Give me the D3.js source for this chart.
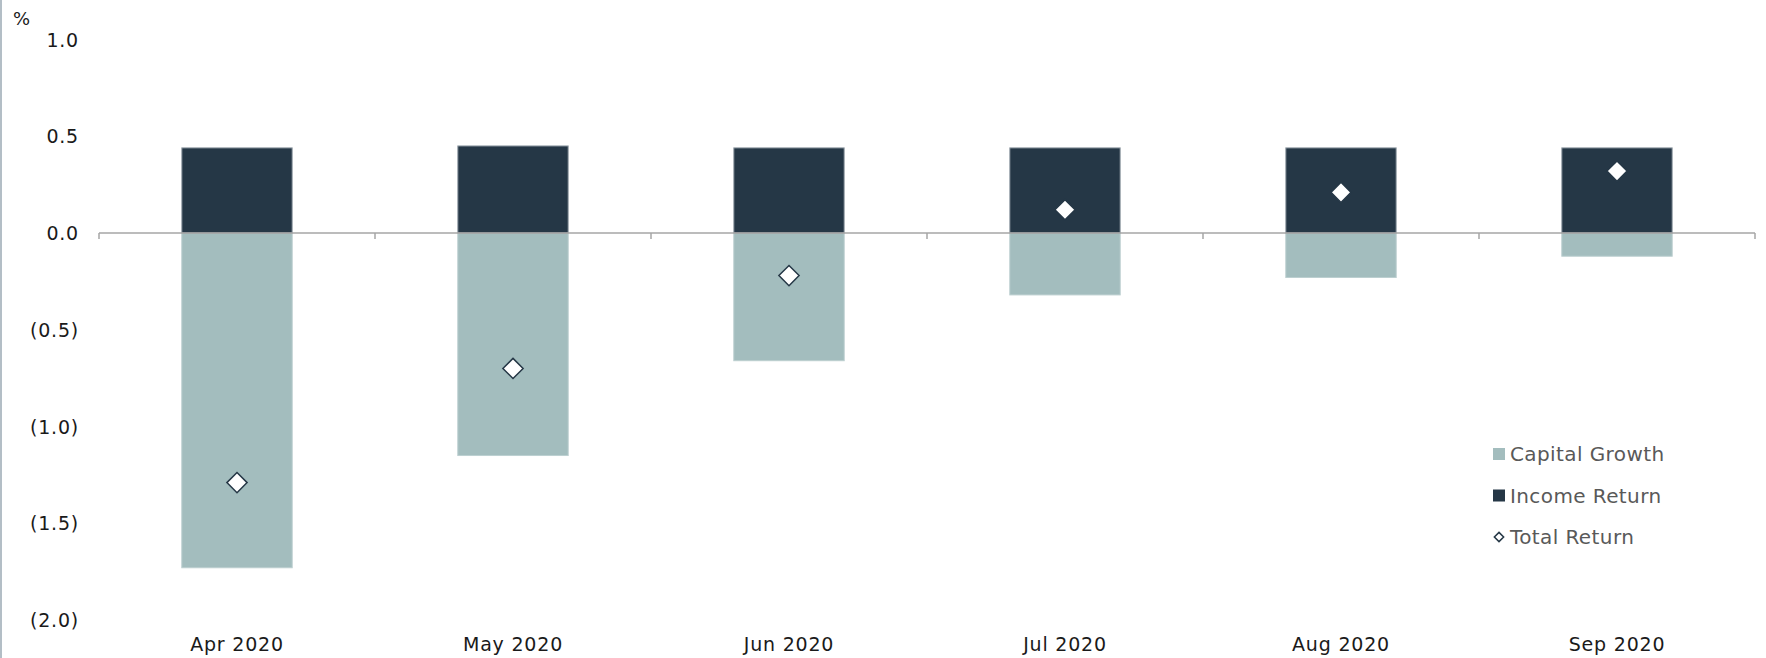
<!DOCTYPE html>
<html>
<head>
<meta charset="utf-8">
<script src="https://d3js.org/d3.v7.min.js"></script>
<style>
  body { margin: 0; background: #fff; }
  text { font-family: "DejaVu Sans", sans-serif; }
</style>
</head>
<body>
<script>
var months = ["Apr 2020", "May 2020", "Jun 2020", "Jul 2020", "Aug 2020", "Sep 2020"];
var capitalGrowth = [-1.73, -1.15, -0.66, -0.32, -0.23, -0.12];
var incomeReturn = [0.44, 0.45, 0.44, 0.44, 0.44, 0.44];
var totalReturn = [-1.29, -0.70, -0.22, 0.12, 0.21, 0.32];
var yTicks = [1.0, 0.5, 0.0, -0.5, -1.0, -1.5, -2.0];

var width = 1766, height = 658;
var darkColor = "#253746", lightColor = "#a3bdbe";

var svg = d3.select("body").append("svg")
    .attr("width", width)
    .attr("height", height);

// left border line
svg.append("rect").attr("x", 0).attr("y", 0).attr("width", 2).attr("height", height)
    .style("fill", "#b3bec6");

var x = d3.scaleBand()
    .domain(months)
    .range([99, 1755])
    .paddingInner(0.6)
    .paddingOuter(0.3);

var y = d3.scaleLinear()
    .domain([-2, 1])
    .range([620, 39.5]);

// y labels
svg.selectAll(".ylab")
    .data(yTicks)
    .enter()
  .append("text")
    .attr("class", "ylab")
    .attr("x", 79)
    .attr("y", function(d) { return y(d) + 7; })
    .attr("text-anchor", "end")
    .style("font-size", "19px")
    .style("letter-spacing", "0.8px")
    .style("fill", "#1a1a1a")
    .text(function(d) { return d < 0 ? "(" + Math.abs(d).toFixed(1) + ")" : d.toFixed(1); });

svg.append("text")
    .attr("x", 13).attr("y", 25)
    .style("font-size", "18px")
    .style("fill", "#1a1a1a")
    .text("%");

// bars
svg.selectAll(".cap")
    .data(capitalGrowth)
    .enter()
  .append("rect")
    .attr("class", "cap")
    .attr("x", function(d, i) { return x(months[i]); })
    .attr("y", y(0))
    .attr("width", x.bandwidth())
    .attr("height", function(d) { return y(d) - y(0); })
    .style("fill", lightColor)
    .style("stroke", "#bccfd0")
    .style("stroke-width", 1);

svg.selectAll(".inc")
    .data(incomeReturn)
    .enter()
  .append("rect")
    .attr("class", "inc")
    .attr("x", function(d, i) { return x(months[i]); })
    .attr("y", function(d) { return y(d); })
    .attr("width", x.bandwidth())
    .attr("height", function(d) { return y(0) - y(d); })
    .style("fill", darkColor)
    .style("stroke", "#9aa4ac")
    .style("stroke-width", 1);

// zero axis
var x0 = x.range()[0], x1 = x.range()[1], step = x.step();
svg.append("line")
    .attr("x1", x0).attr("x2", x1)
    .attr("y1", y(0)).attr("y2", y(0))
    .style("stroke", "#a6a6a6").style("stroke-width", 1.5);

svg.selectAll(".tick")
    .data(d3.range(months.length + 1))
    .enter()
  .append("line")
    .attr("x1", function(d) { return x0 + d * step; })
    .attr("x2", function(d) { return x0 + d * step; })
    .attr("y1", y(0)).attr("y2", y(0) + 6)
    .style("stroke", "#a6a6a6").style("stroke-width", 1.5);

// diamonds
var diamond = d3.symbol().type(d3.symbolDiamond2).size(260);
svg.selectAll(".tot")
    .data(totalReturn)
    .enter()
  .append("path")
    .attr("class", "tot")
    .attr("d", diamond)
    .attr("transform", function(d, i) { return "translate(" + (x(months[i]) + x.bandwidth() / 2) + "," + y(d) + ")"; })
    .style("fill", "#fff")
    .style("stroke", darkColor)
    .style("stroke-width", 1.5);

// x labels
svg.selectAll(".xlab")
    .data(months)
    .enter()
  .append("text")
    .attr("class", "xlab")
    .attr("x", function(d) { return x(d) + x.bandwidth() / 2; })
    .attr("y", 651)
    .attr("text-anchor", "middle")
    .style("font-size", "19px")
    .style("letter-spacing", "0.8px")
    .style("fill", "#1a1a1a")
    .text(function(d) { return d; });

// legend
var legendItems = [
    {name: "Capital Growth", type: "rect", color: lightColor},
    {name: "Income Return", type: "rect", color: darkColor},
    {name: "Total Return", type: "diamond", color: "#fff"}
];
var legend = svg.selectAll(".leg")
    .data(legendItems)
    .enter()
  .append("g")
    .attr("class", "leg")
    .attr("transform", function(d, i) { return "translate(1493," + (454 + i * 41.5) + ")"; });

legend.filter(function(d) { return d.type === "rect"; })
  .append("rect")
    .attr("x", 0).attr("y", -6)
    .attr("width", 12).attr("height", 12)
    .style("fill", function(d) { return d.color; });

legend.filter(function(d) { return d.type === "diamond"; })
  .append("path")
    .attr("d", d3.symbol().type(d3.symbolDiamond2).size(55))
    .attr("transform", "translate(6,0)")
    .style("fill", "#fff")
    .style("stroke", darkColor)
    .style("stroke-width", 1.5);

legend.append("text")
    .attr("x", 17)
    .attr("y", 7)
    .style("font-size", "20px")
    .style("letter-spacing", "0.4px")
    .style("fill", "#595959")
    .text(function(d) { return d.name; });
</script>
</body>
</html>
